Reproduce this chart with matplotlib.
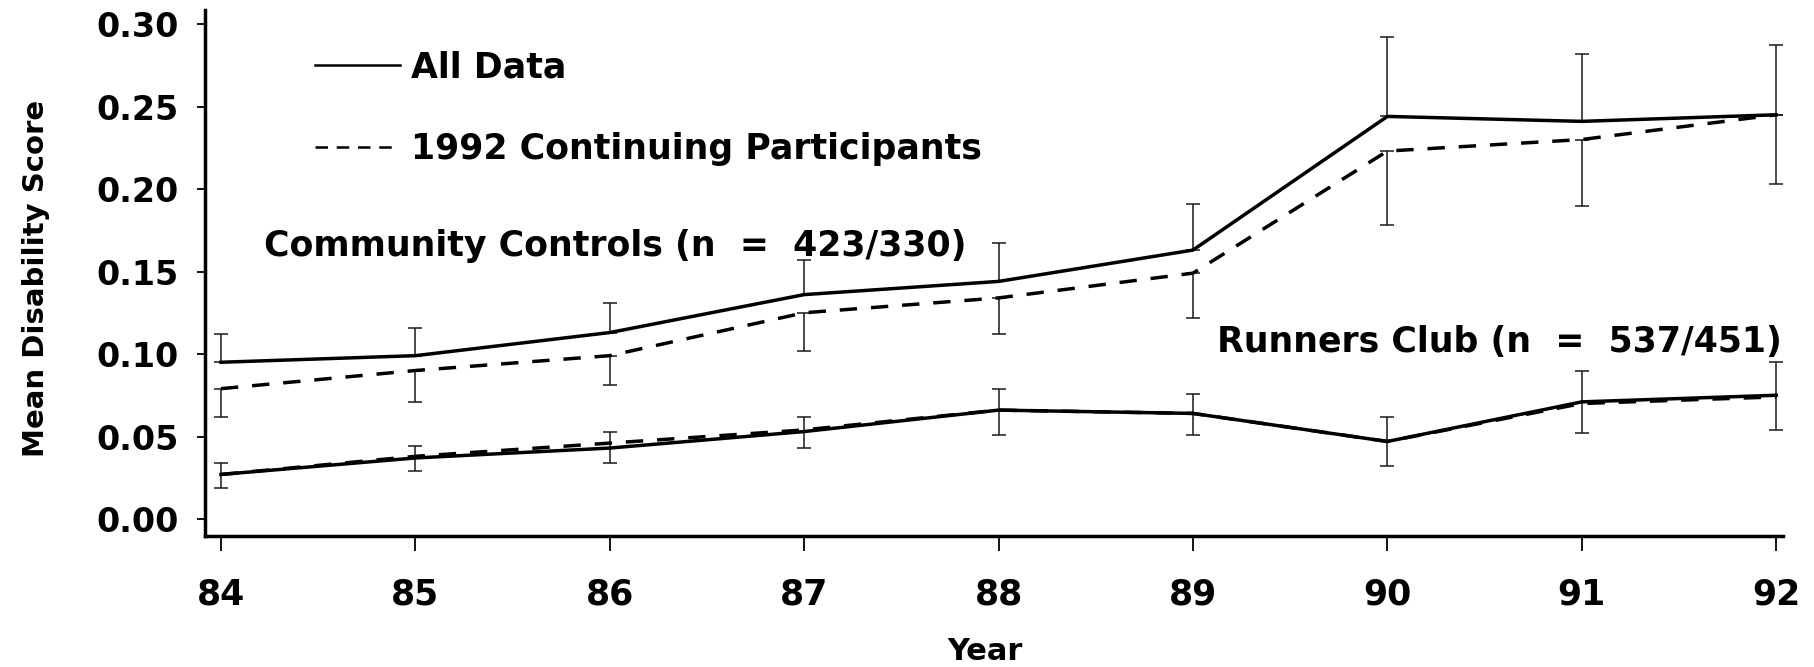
import numpy as np
from matplotlib import pyplot as plt
from matplotlib.lines import Line2D

# 年份（x轴）
years = np.array([84, 85, 86, 87, 88, 89, 90, 91, 92])
year_labels = ["84", "85", "86", "87", "88", "89", "90", "91", "92"]
y_ticks = [0.00, 0.05, 0.10, 0.15, 0.20, 0.25, 0.30]
y_tick_labels = ["0.00", "0.05", "0.10", "0.15", "0.20", "0.25", "0.30"]

# Community Controls
cc_all = np.array([0.095, 0.099, 0.113, 0.136, 0.144, 0.163, 0.244, 0.241, 0.245])
cc_all_hi = np.array([0.112, 0.116, 0.131, 0.157, 0.167, 0.191, 0.292, 0.282, 0.287])
cc_cont = np.array([0.079, 0.090, 0.099, 0.125, 0.134, 0.149, 0.223, 0.230, 0.245])
cc_cont_lo = np.array([0.062, 0.071, 0.081, 0.102, 0.112, 0.122, 0.178, 0.190, 0.203])

# Runners Club
rc_all = np.array([0.027, 0.037, 0.043, 0.053, 0.066, 0.064, 0.047, 0.071, 0.075])
rc_cont = np.array([0.027, 0.038, 0.046, 0.054, 0.066, 0.064, 0.047, 0.070, 0.074])
rc_lo = np.array([0.019, 0.029, 0.034, 0.043, 0.051, 0.051, 0.032, 0.052, 0.054])
rc_hi = np.array([0.034, 0.044, 0.053, 0.062, 0.079, 0.076, 0.062, 0.090, 0.095])

plt.rcParams["font.family"] = ["DejaVu Sans"]
plt.rcParams["font.weight"] = "bold"

W, H = 1814, 667
fig = plt.figure(figsize=(W / 100, H / 100), dpi=100)
ax = fig.add_axes([205 / W, 1 - 536 / H, (1783 - 205) / W, (536 - 10) / H])

dash = (0, (5, 4))
lw = 2.5
ek = dict(fmt="none", ecolor="#1a1a1a", elinewidth=1.1, capsize=5, capthick=1.1)

# 社区对照组
ax.errorbar(years, cc_all, yerr=[np.zeros_like(cc_all), cc_all_hi - cc_all], **ek)
ax.errorbar(years, cc_cont, yerr=[cc_cont - cc_cont_lo, np.zeros_like(cc_cont)], **ek)
ax.plot(years, cc_cont, color="k", ls=dash, lw=lw)
ax.plot(years, cc_all, color="k", ls="-", lw=lw)

# 跑步俱乐部
ax.errorbar(years, rc_all, yerr=[rc_all - rc_lo, rc_hi - rc_all], **ek)
ax.plot(years, rc_cont, color="k", ls=dash, lw=lw)
ax.plot(years, rc_all, color="k", ls="-", lw=lw)

ax.set_xlim(83.918, 92.035)
ax.set_ylim(-0.0103, 0.3085)
ax.set_xticks(years)
ax.set_xticklabels(year_labels)
ax.set_yticks(y_ticks)
ax.set_yticklabels(y_tick_labels)
ax.tick_params(axis="x", length=11, width=1.3, pad=19, labelsize=25)
ax.tick_params(axis="y", length=6, width=1.3, pad=13, labelsize=24)

for s in ["top", "right"]:
    ax.spines[s].set_visible(False)
for s in ["left", "bottom"]:
    ax.spines[s].set_linewidth(2.5)

ax.set_xlabel("Year", fontsize=22, fontweight="bold")
ax.set_ylabel("Mean Disability Score", fontsize=21, fontweight="bold")
ax.xaxis.set_label_coords(0.494, -0.192)
ax.yaxis.set_label_coords(-0.098, 0.49)

ax.text(84.22, 0.1655, "Community Controls (n  =  423/330)", fontsize=25,
        fontweight="bold", ha="left", va="center")
ax.text(92.03, 0.107, "Runners Club (n  =  537/451)", fontsize=25,
        fontweight="bold", ha="right", va="center")

handles = [
    Line2D([], [], color="k", lw=1.8, ls="-"),
    Line2D([], [], color="k", lw=1.8, ls=(0, (5, 3.5))),
]
ax.legend(handles, ["All Data", "1992 Continuing Participants"],
          loc="upper left", bbox_to_anchor=(315 / W, 1 - 50 / H),
          bbox_transform=fig.transFigure, frameon=False, borderpad=0,
          borderaxespad=0, fontsize=25, labelspacing=1.38,
          handlelength=2.45, handletextpad=0.32)

fig.savefig("out.png", dpi=100)
